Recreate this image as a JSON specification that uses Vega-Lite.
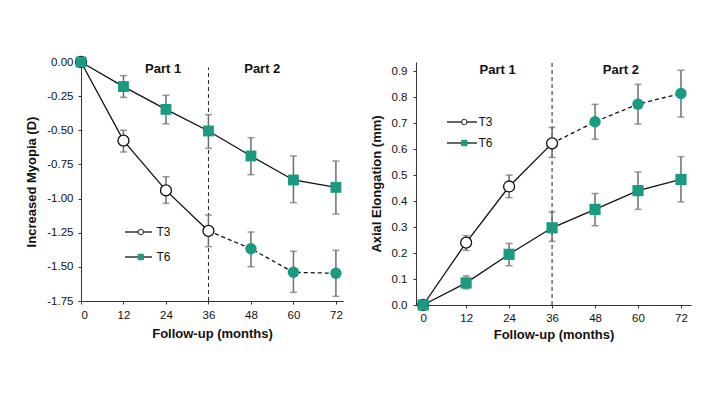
{
  "$schema": "https://vega.github.io/schema/vega-lite/v6.json",
  "background": "white",
  "padding": {"left": 25, "top": 53, "right": 5, "bottom": 5},
  "spacing": 27,
  "datasets": {
    "myopia": [
      {"series": "T3", "month": 0, "mean": 0, "lo": null, "hi": null},
      {"series": "T3", "month": 12, "mean": -0.576, "lo": -0.659, "hi": -0.5},
      {"series": "T3", "month": 24, "mean": -0.94, "lo": -1.035, "hi": -0.84},
      {"series": "T3", "month": 36, "mean": -1.237, "lo": -1.352, "hi": -1.12},
      {"series": "T3", "month": 48, "mean": -1.367, "lo": -1.499, "hi": -1.245},
      {"series": "T3", "month": 60, "mean": -1.54, "lo": -1.687, "hi": -1.386},
      {"series": "T3", "month": 72, "mean": -1.547, "lo": -1.716, "hi": -1.379},
      {"series": "T6", "month": 0, "mean": 0, "lo": null, "hi": null},
      {"series": "T6", "month": 12, "mean": -0.18, "lo": -0.259, "hi": -0.1},
      {"series": "T6", "month": 24, "mean": -0.347, "lo": -0.452, "hi": -0.244},
      {"series": "T6", "month": 36, "mean": -0.505, "lo": -0.632, "hi": -0.386},
      {"series": "T6", "month": 48, "mean": -0.688, "lo": -0.825, "hi": -0.554},
      {"series": "T6", "month": 60, "mean": -0.864, "lo": -1.03, "hi": -0.688},
      {"series": "T6", "month": 72, "mean": -0.918, "lo": -1.113, "hi": -0.725}
    ],
    "axial": [
      {"series": "T3", "month": 0, "mean": 0, "lo": null, "hi": null},
      {"series": "T3", "month": 12, "mean": 0.24, "lo": 0.21, "hi": 0.267},
      {"series": "T3", "month": 24, "mean": 0.456, "lo": 0.413, "hi": 0.5},
      {"series": "T3", "month": 36, "mean": 0.622, "lo": 0.568, "hi": 0.683},
      {"series": "T3", "month": 48, "mean": 0.705, "lo": 0.638, "hi": 0.772},
      {"series": "T3", "month": 60, "mean": 0.773, "lo": 0.696, "hi": 0.849},
      {"series": "T3", "month": 72, "mean": 0.814, "lo": 0.723, "hi": 0.903},
      {"series": "T6", "month": 0, "mean": 0, "lo": null, "hi": null},
      {"series": "T6", "month": 12, "mean": 0.085, "lo": 0.062, "hi": 0.112},
      {"series": "T6", "month": 24, "mean": 0.195, "lo": 0.151, "hi": 0.237},
      {"series": "T6", "month": 36, "mean": 0.297, "lo": 0.245, "hi": 0.358},
      {"series": "T6", "month": 48, "mean": 0.368, "lo": 0.305, "hi": 0.429},
      {"series": "T6", "month": 60, "mean": 0.44, "lo": 0.368, "hi": 0.512},
      {"series": "T6", "month": 72, "mean": 0.483, "lo": 0.397, "hi": 0.571}
    ]
  },
  "resolve": {"scale": {"size": "independent", "shape": "independent", "fill": "independent", "stroke": "independent"}},
  "hconcat": [
    {
      "width": 262,
      "height": 239,
      "data": {"name": "myopia"},
      "encoding": {
        "x": {"field": "month", "type": "quantitative",
              "scale": {"domain": [0, 74], "nice": false, "zero": false},
              "axis": {"values": [0, 12, 24, 36, 48, 60, 72], "title": "Follow-up (months)", "labelPadding": 5, "titlePadding": 7}},
        "y": {"field": "mean", "type": "quantitative",
              "scale": {"domain": [-1.75, 0], "nice": false, "zero": false},
              "axis": {"values": [-1.75, -1.5, -1.25, -1, -0.75, -0.5, -0.25, 0], "title": "Increased Myopia (D)",
                       "labelExpr": "replace(format(datum.value, '.2f'), '\u2212', '-')", "labelPadding": 5, "titlePadding": 8}}
      },
      "layer": [
        {"transform": [{"filter": "datum.series == 'T3' && datum.month == 36"}],
         "mark": {"type": "rule", "strokeDash": [4, 3], "color": "#222", "strokeWidth": 1},
         "encoding": {"y": {"datum": -1.75}, "y2": {"datum": -0.04}}},
        {"transform": [{"filter": "datum.month > 0"}],
         "mark": {"type": "errorbar", "ticks": true, "size": 7, "thickness": 1.5, "color": "#6e6e6e"},
         "encoding": {"y": {"field": "lo", "type": "quantitative"}, "y2": {"field": "hi"}}},
        {"transform": [{"filter": "datum.series == 'T3' && datum.month <= 36"}],
         "mark": {"type": "line", "color": "#111", "strokeWidth": 1.3}},
        {"transform": [{"filter": "datum.series == 'T3' && datum.month >= 36"}],
         "mark": {"type": "line", "color": "#111", "strokeWidth": 1.3, "strokeDash": [4, 3]}},
        {"transform": [{"filter": "datum.series == 'T6'"}],
         "mark": {"type": "line", "color": "#111", "strokeWidth": 1.3}},
        {"transform": [{"filter": "datum.series == 'T3' && datum.month <= 36"}],
         "mark": {"type": "point", "shape": "circle", "filled": true, "fill": "white", "stroke": "#111", "strokeWidth": 1.3, "size": 120, "opacity": 1}},
        {"transform": [{"filter": "datum.series == 'T3' && datum.month > 36"}],
         "mark": {"type": "point", "shape": "circle", "filled": true, "color": "#1a9a80", "size": 130, "opacity": 1}},
        {"transform": [{"filter": "datum.series == 'T6'"}],
         "mark": {"type": "point", "shape": "square", "filled": true, "color": "#1a9a80", "size": 118, "opacity": 1}},
        {"transform": [{"filter": "datum.series == 'T3' && datum.month == 0"}],
         "mark": {"type": "text", "text": "Part 1", "font": "Liberation Sans", "fontSize": 13, "fontWeight": "bold", "color": "#111", "baseline": "middle", "align": "center"},
         "encoding": {"x": {"datum": 23.2}, "y": {"datum": -0.05}}},
        {"transform": [{"filter": "datum.series == 'T3' && datum.month == 0"}],
         "mark": {"type": "text", "text": "Part 2", "font": "Liberation Sans", "fontSize": 13, "fontWeight": "bold", "color": "#111", "baseline": "middle", "align": "center"},
         "encoding": {"x": {"datum": 51.2}, "y": {"datum": -0.05}}},
        {"transform": [{"filter": "datum.month == 0"}],
         "mark": {"type": "point", "filled": false, "opacity": 0, "color": "#333"},
         "encoding": {"size": {"field": "series", "type": "ordinal", "scale": {"domain": ["T3", "T6"], "range": [100, 100]},
           "legend": {"title": null, "orient": "none", "legendX": 51.5, "legendY": 164, "symbolType": "M-2.7,0L2.7,0",
                      "symbolStrokeColor": "#333", "symbolStrokeWidth": 1.5, "symbolFillColor": "transparent", "symbolOpacity": 1,
                      "labelFont": "Liberation Sans", "labelFontSize": 12, "labelColor": "#111", "labelOffset": 12, "rowPadding": 13, "padding": 0}}}},
        {"transform": [{"filter": "datum.month == 0"}],
         "mark": {"type": "point", "filled": true, "opacity": 0, "size": 30},
         "encoding": {
           "shape": {"field": "series", "type": "nominal", "scale": {"range": ["circle", "square"]},
             "legend": {"title": null, "orient": "none", "legendX": 53.8, "legendY": 164, "symbolSize": 30, "symbolStrokeWidth": 1, "symbolOpacity": 1,
                        "labelFont": "Liberation Sans", "labelFontSize": 12, "labelOpacity": 0, "labelExpr": "''", "rowPadding": 13, "padding": 0}},
           "fill": {"field": "series", "type": "nominal", "scale": {"range": ["white", "#1a9a80"]},
             "legend": {"title": null, "orient": "none", "legendX": 53.8, "legendY": 164, "symbolSize": 30, "symbolStrokeWidth": 1, "symbolOpacity": 1,
                        "labelFont": "Liberation Sans", "labelFontSize": 12, "labelOpacity": 0, "labelExpr": "''", "rowPadding": 13, "padding": 0}},
           "stroke": {"field": "series", "type": "nominal", "scale": {"range": ["#222", "#1a9a80"]},
             "legend": {"title": null, "orient": "none", "legendX": 53.8, "legendY": 164, "symbolSize": 30, "symbolStrokeWidth": 1, "symbolOpacity": 1,
                        "labelFont": "Liberation Sans", "labelFontSize": 12, "labelOpacity": 0, "labelExpr": "''", "rowPadding": 13, "padding": 0}}
         }}
      ]
    },
    {
      "width": 275,
      "height": 243,
      "data": {"name": "axial"},
      "encoding": {
        "x": {"field": "month", "type": "quantitative",
              "scale": {"domain": [-2, 74.8], "nice": false, "zero": false},
              "axis": {"values": [0, 12, 24, 36, 48, 60, 72], "title": "Follow-up (months)", "labelPadding": 4, "titlePadding": 5}},
        "y": {"field": "mean", "type": "quantitative",
              "scale": {"domain": [0, 0.935], "nice": false, "zero": false},
              "axis": {"values": [0, 0.1, 0.2, 0.3, 0.4, 0.5, 0.6, 0.7, 0.8, 0.9], "format": ".1f", "title": "Axial Elongation (mm)", "labelPadding": 6, "titlePadding": 8}}
      },
      "layer": [
        {"transform": [{"filter": "datum.series == 'T3' && datum.month == 36"}],
         "mark": {"type": "rule", "strokeDash": [4, 3], "color": "#222", "strokeWidth": 1},
         "encoding": {"y": {"datum": 0}, "y2": {"datum": 0.935}}},
        {"transform": [{"filter": "datum.month > 0"}],
         "mark": {"type": "errorbar", "ticks": true, "size": 7, "thickness": 1.5, "color": "#6e6e6e"},
         "encoding": {"y": {"field": "lo", "type": "quantitative"}, "y2": {"field": "hi"}}},
        {"transform": [{"filter": "datum.series == 'T3' && datum.month <= 36"}],
         "mark": {"type": "line", "color": "#111", "strokeWidth": 1.3}},
        {"transform": [{"filter": "datum.series == 'T3' && datum.month >= 36"}],
         "mark": {"type": "line", "color": "#111", "strokeWidth": 1.3, "strokeDash": [4, 3]}},
        {"transform": [{"filter": "datum.series == 'T6'"}],
         "mark": {"type": "line", "color": "#111", "strokeWidth": 1.3}},
        {"transform": [{"filter": "datum.series == 'T3' && datum.month <= 36"}],
         "mark": {"type": "point", "shape": "circle", "filled": true, "fill": "white", "stroke": "#111", "strokeWidth": 1.3, "size": 120, "opacity": 1}},
        {"transform": [{"filter": "datum.series == 'T3' && datum.month > 36"}],
         "mark": {"type": "point", "shape": "circle", "filled": true, "color": "#1a9a80", "size": 130, "opacity": 1}},
        {"transform": [{"filter": "datum.series == 'T6'"}],
         "mark": {"type": "point", "shape": "square", "filled": true, "color": "#1a9a80", "size": 125, "opacity": 1}},
        {"transform": [{"filter": "datum.series == 'T3' && datum.month == 0"}],
         "mark": {"type": "text", "text": "Part 1", "font": "Liberation Sans", "fontSize": 13, "fontWeight": "bold", "color": "#111", "baseline": "middle", "align": "center"},
         "encoding": {"x": {"datum": 20.8}, "y": {"datum": 0.906}}},
        {"transform": [{"filter": "datum.series == 'T3' && datum.month == 0"}],
         "mark": {"type": "text", "text": "Part 2", "font": "Liberation Sans", "fontSize": 13, "fontWeight": "bold", "color": "#111", "baseline": "middle", "align": "center"},
         "encoding": {"x": {"datum": 55.2}, "y": {"datum": 0.906}}},
        {"transform": [{"filter": "datum.month == 0"}],
         "mark": {"type": "point", "filled": false, "opacity": 0, "color": "#333"},
         "encoding": {"size": {"field": "series", "type": "ordinal", "scale": {"domain": ["T3", "T6"], "range": [100, 100]},
           "legend": {"title": null, "orient": "none", "legendX": 40, "legendY": 54, "symbolType": "M-3,0L3,0",
                      "symbolStrokeColor": "#333", "symbolStrokeWidth": 1.5, "symbolFillColor": "transparent", "symbolOpacity": 1,
                      "labelFont": "Liberation Sans", "labelFontSize": 12, "labelColor": "#111", "labelOffset": 10.5, "rowPadding": 9, "padding": 0}}}},
        {"transform": [{"filter": "datum.month == 0"}],
         "mark": {"type": "point", "filled": true, "opacity": 0, "size": 30},
         "encoding": {
           "shape": {"field": "series", "type": "nominal", "scale": {"range": ["circle", "square"]},
             "legend": {"title": null, "orient": "none", "legendX": 42.3, "legendY": 54, "symbolSize": 30, "symbolStrokeWidth": 1, "symbolOpacity": 1,
                        "labelFont": "Liberation Sans", "labelFontSize": 12, "labelOpacity": 0, "labelExpr": "''", "rowPadding": 9, "padding": 0}},
           "fill": {"field": "series", "type": "nominal", "scale": {"range": ["white", "#1a9a80"]},
             "legend": {"title": null, "orient": "none", "legendX": 42.3, "legendY": 54, "symbolSize": 30, "symbolStrokeWidth": 1, "symbolOpacity": 1,
                        "labelFont": "Liberation Sans", "labelFontSize": 12, "labelOpacity": 0, "labelExpr": "''", "rowPadding": 9, "padding": 0}},
           "stroke": {"field": "series", "type": "nominal", "scale": {"range": ["#222", "#1a9a80"]},
             "legend": {"title": null, "orient": "none", "legendX": 42.3, "legendY": 54, "symbolSize": 30, "symbolStrokeWidth": 1, "symbolOpacity": 1,
                        "labelFont": "Liberation Sans", "labelFontSize": 12, "labelOpacity": 0, "labelExpr": "''", "rowPadding": 9, "padding": 0}}
         }}
      ]
    }
  ],
  "config": {
    "view": {"stroke": null},
    "font": "Liberation Sans",
    "axis": {
      "grid": false,
      "domainColor": "#333",
      "domainWidth": 1,
      "tickColor": "#333",
      "tickSize": 3,
      "labelFont": "Liberation Sans",
      "labelFontSize": 11.5,
      "labelColor": "#111",
      "titleFont": "Liberation Sans",
      "titleFontSize": 13,
      "titleFontWeight": "bold",
      "titleColor": "#111"
    }
  }
}
